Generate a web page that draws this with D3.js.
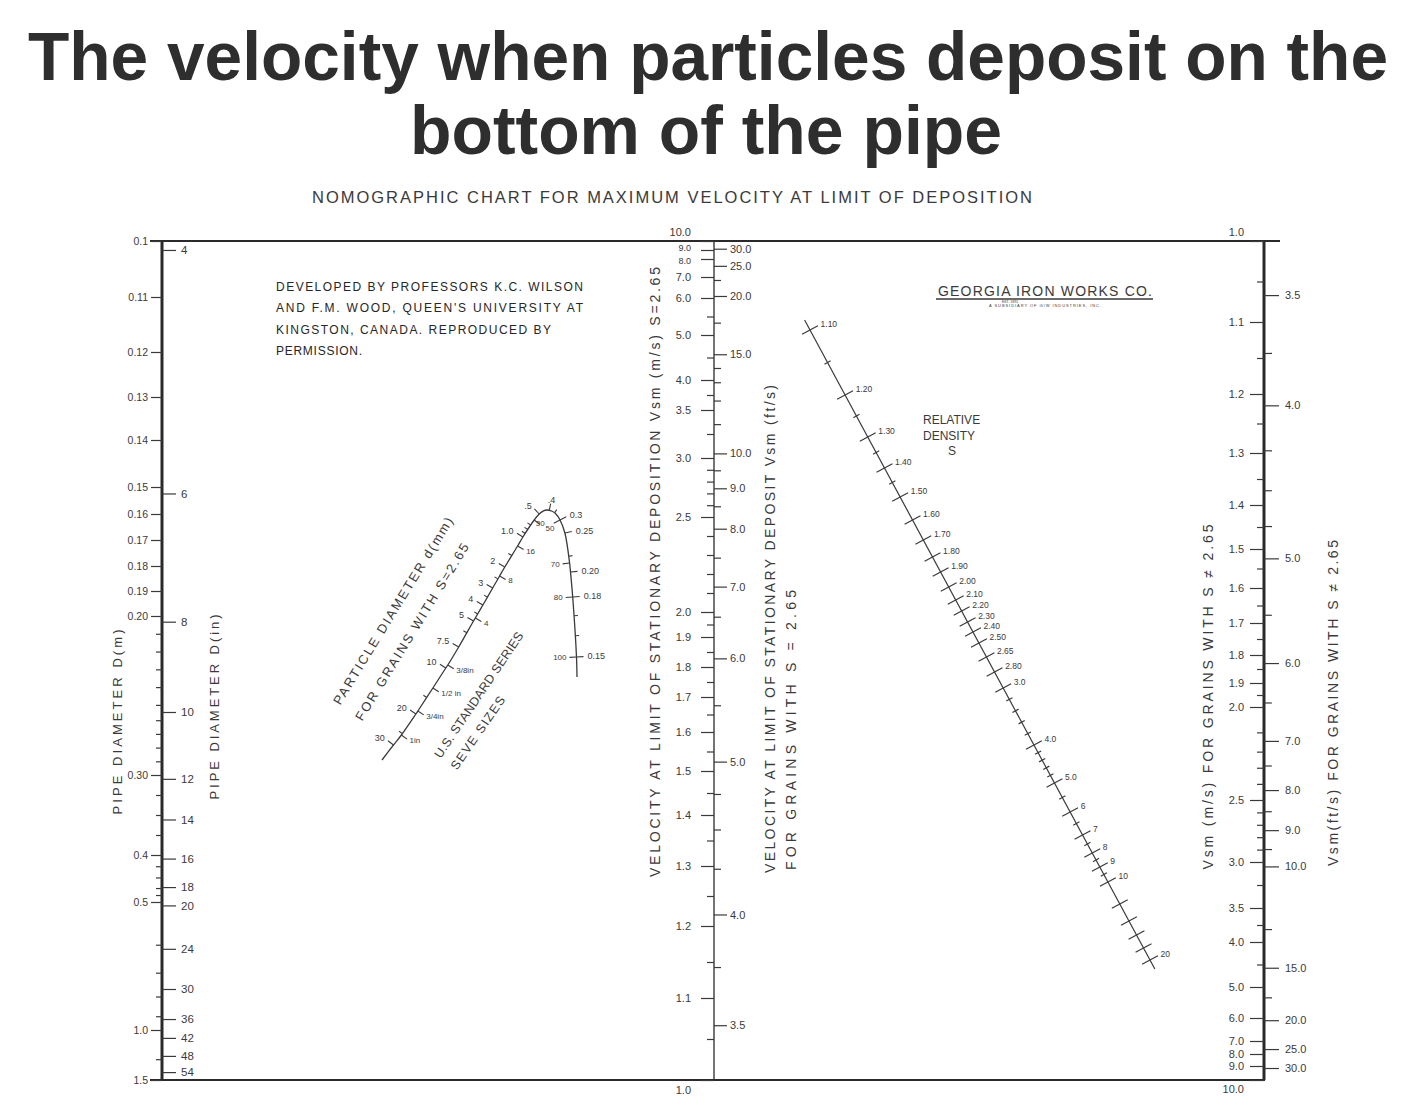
<!DOCTYPE html>
<html>
<head>
<meta charset="utf-8">
<style>
  body { margin: 0; background: #fff; }
  svg { display: block; }
  text { font-family: "Liberation Sans", Arial, sans-serif; fill: #3a3a3a; }
</style>
</head>
<body>
<svg width="1416" height="1113"></svg>
<script src="https://d3js.org/d3.v7.min.js"></script>
<script>

// pipe diameter, metres (left side) and inches (right side)
var pipeM = [0.1,0.11,0.12,0.13,0.14,0.15,0.16,0.17,0.18,0.19,0.2,0.3,0.4,0.5,1.0,1.5];
var pipeMLabels = ["0.1","0.11","0.12","0.13","0.14","0.15","0.16","0.17","0.18","0.19","0.20","0.30","0.4","0.5","1.0","1.5"];
var pipeMMinor = [0.21,0.22,0.23,0.24,0.25,0.26,0.27,0.28,0.29,0.325,0.35,0.375,0.42,0.44,0.46,0.48,0.6,0.7,0.8,0.9,1.25];
var pipeIn = [4,6,8,10,12,14,16,18,20,24,30,36,42,48,54];

// Vsm for S = 2.65 (middle scale)
var vsmMid = [10,9,8,7,6,5,4,3.5,3,2.5,2,1.9,1.8,1.7,1.6,1.5,1.4,1.3,1.2,1.1,1.0];
var vsmMidLabels = ["10.0","9.0","8.0","7.0","6.0","5.0","4.0","3.5","3.0","2.5","2.0","1.9","1.8","1.7","1.6","1.5","1.4","1.3","1.2","1.1","1.0"];
var vsmMidMinor = [1.05,1.15,1.25,1.35,1.45,1.55,1.65,1.75,1.85,1.95,2.1,2.2,2.3,2.4,2.6,2.7,2.8,2.9,3.25,3.75,4.5,5.5];
var vsmMidFt = [30,25,20,15,10,9,8,7,6,5,4,3.5];
var vsmMidFtLabels = ["30.0","25.0","20.0","15.0","10.0","9.0","8.0","7.0","6.0","5.0","4.0","3.5"];
var vsmMidFtMinor = [3.75,4.25,4.5,4.75,5.5,6.5,7.5,8.5,9.5,11,12,13,14,17.5,22.5];

// Vsm for S != 2.65 (right scale)
var vsmRight = [1.0,1.1,1.2,1.3,1.4,1.5,1.6,1.7,1.8,1.9,2.0,2.5,3.0,3.5,4.0,5.0,6.0,7.0,8.0,9.0,10.0];
var vsmRightLabels = ["1.0","1.1","1.2","1.3","1.4","1.5","1.6","1.7","1.8","1.9","2.0","2.5","3.0","3.5","4.0","5.0","6.0","7.0","8.0","9.0","10.0"];
var vsmRightMinor = [1.05,1.15,1.25,1.35,1.45,1.55,1.65,1.75,1.85,1.95,2.1,2.2,2.3,2.4,2.6,2.7,2.8,2.9,3.25,3.75,4.5];
var vsmRightFt = [3.5,4,5,6,7,8,9,10,15,20,25,30];
var vsmRightFtLabels = ["3.5","4.0","5.0","6.0","7.0","8.0","9.0","10.0","15.0","20.0","25.0","30.0"];
var vsmRightFtMinor = [3.75,4.25,4.5,4.75,5.5,6.5,7.5,8.5,9.5,12.5,17.5];

// relative density S
var density = [1.1,1.2,1.3,1.4,1.5,1.6,1.7,1.8,1.9,2.0,2.1,2.2,2.3,2.4,2.5,2.65,2.8,3.0,4.0,5.0,6,7,8,9,10,20];
var densityLabels = ["1.10","1.20","1.30","1.40","1.50","1.60","1.70","1.80","1.90","2.00","2.10","2.20","2.30","2.40","2.50","2.65","2.80","3.0","4.0","5.0","6","7","8","9","10","20"];
var densityPlain = [12,14,16,18];
var densityMinor = [1.15,1.25,1.35,1.45,3.2,3.4,3.6,3.8,4.2,4.4,4.6,4.8,5.5,6.5,7.5,8.5,9.5];

// particle diameter (mm) and US standard sieve sizes
var particleMm = [30,20,10,7.5,5,4,3,2,1.0,0.5,0.4,0.3,0.25,0.2,0.18,0.15];
var particleLabels = ["30","20","10","7.5","5","4","3","2","1.0",".5",".4","0.3","0.25","0.20","0.18","0.15"];
var particleMinor = [25,15,6,4.5,3.5,2.5,1.5,0.9,0.8,0.7,0.35,0.22,0.17,0.16];
var sieveMm = [25.4,19.05,12.7,9.53,4.75,2.36,1.18,0.6,0.3,0.212,0.18,0.15];
var sieveLabels = ["1in","3/4in","1/2 in","3/8in","4","8","16","30","50","70","80","100"];

// ---- layout: the nomograph's functional scales ----
var svg = d3.select("svg"),
    ink = "#3a3a3a",
    font = "'Liberation Sans', Arial, sans-serif";

var frameTop = 241, frameBottom = 1080;
var leftX = 162, midX = 714, rightX = 1264;

function offsets(o) { return o.map(function(v){ return frameTop + v; }); }

// knots measured along each scale (px below the top frame line)
var pipeKnotM = [0.1,0.11,0.12,0.13,0.14,0.15,0.16,0.17,0.18,0.19,0.2,0.254,0.3,0.4,0.457,0.5,0.61,0.762,0.914,1.0,1.22,1.37,1.5];
var pipeKnotY = [0,56,111,156,199,246,273,299,325,350,375,471,534,614,646,661,708,748,778,789,815,831,839];
var pipeScale = d3.scaleLinear().domain(pipeKnotM).range(offsets(pipeKnotY));
var inchScale = d3.scaleLinear().domain(pipeKnotM.map(function(m){ return m/0.0254; })).range(offsets(pipeKnotY));

var midKnotV = [1.0,1.1,1.2,1.3,1.4,1.5,1.6,1.7,1.8,1.9,2,2.5,3,3.5,4,5,6,7,8,9,10];
var midKnotY = [839,757,685,625,574,530,491,456,426,396,371,276,217,169,139,94,57,36,18,9,0];
var midScale = d3.scaleLinear().domain(midKnotV).range(offsets(midKnotY));
var midFtScale = d3.scaleLinear().domain(midKnotV.map(function(v){ return v/0.3048; })).range(offsets(midKnotY));

var rightKnotV = [1.0,1.1,1.2,1.3,1.4,1.5,1.6,1.7,1.8,1.9,2.0,2.134,2.5,3.0,3.5,4.0,5.0,6.0,7.0,8.0,9.0,10.0];
var rightKnotY = [0,81,153,212,264,308,347,382,414,442,466,500,559,621,667,701,746,777,800,813,825,839];
var rightScale = d3.scaleLinear().domain(rightKnotV).range(offsets(rightKnotY));
var rightFtScale = d3.scaleLinear().domain(rightKnotV.map(function(v){ return v/0.3048; })).range(offsets(rightKnotY));

// density line: S -> y along the line, y -> x on the straight line
var densKnotS = [1.1,1.2,1.3,1.4,1.5,1.6,1.7,1.8,1.9,2.0,2.1,2.2,2.3,2.4,2.5,2.65,2.8,3.0,4.0,5.0,6,7,8,9,10,12,14,16,18,20];
var densKnotY = [330,395,437,468,497,520,540,557,572,587,600,611,622,632,643,657,672,688,745,783,812,835,853,867,882,904,921,935,948,960];
var densY = d3.scaleLinear().domain(densKnotS).range(densKnotY);
var lineX = d3.scaleLinear().domain([330,960]).range([810,1150]);

// particle curve: d (mm) -> x, y
var curveKnotD = [34,30,25.4,20,19.05,12.7,10,9.53,7.5,5,4.75,4,3,2.36,2,1.18,1.0,0.6,0.5,0.45,0.42,0.38,0.34,0.3,0.25,0.212,0.2,0.18,0.15,0.138];
var curveKnotX = [382,393.5,401.4,415.9,417.9,432.9,445.8,447.8,458.7,473.5,475.3,482.9,492.7,499.6,504.8,517.6,522.9,534.2,539.2,543.5,547,551.5,555.5,560,564.9,569.6,570.5,572.7,576.5,577];
var curveKnotY = [760,745,735,714,711,688,668,665,647,621,618,605,588,576,567,546,537,520,514,510.8,510,511,513.5,520,533,563,572,597,657,677];
var cx = d3.scaleLog().domain(curveKnotD).range(curveKnotX);
var cy = d3.scaleLog().domain(curveKnotD).range(curveKnotY);

// ---- title ----
svg.append("text").attr("x", 708).attr("y", 80)
  .attr("text-anchor", "middle").attr("font-size", 68).attr("font-weight", "bold")
  .attr("textLength", 1360).attr("lengthAdjust", "spacingAndGlyphs")
  .style("fill", "#2e2e2e")
  .text("The velocity when particles deposit on the");
svg.append("text").attr("x", 706).attr("y", 154)
  .attr("text-anchor", "middle").attr("font-size", 68).attr("font-weight", "bold")
  .attr("textLength", 592).attr("lengthAdjust", "spacingAndGlyphs")
  .style("fill", "#2e2e2e")
  .text("bottom of the pipe");
svg.append("text").attr("x", 672).attr("y", 203)
  .attr("text-anchor", "middle").attr("font-size", 16.5)
  .attr("textLength", 720).attr("lengthAdjust", "spacing")
  .text("NOMOGRAPHIC CHART FOR MAXIMUM VELOCITY AT LIMIT OF DEPOSITION");

// ---- frame ----
var frame = svg.append("g").attr("stroke", "#2a2a2a").attr("fill", "none");
frame.append("line").attr("x1", 150).attr("x2", 1280).attr("y1", frameTop).attr("y2", frameTop).attr("stroke-width", 2.2);
frame.append("line").attr("x1", 150).attr("x2", rightX + 1).attr("y1", frameBottom).attr("y2", frameBottom).attr("stroke-width", 2.2);
frame.append("line").attr("x1", leftX).attr("x2", leftX).attr("y1", frameTop).attr("y2", frameBottom).attr("stroke-width", 3);
frame.append("line").attr("x1", midX).attr("x2", midX).attr("y1", frameTop).attr("y2", frameBottom).attr("stroke-width", 1.3);
frame.append("line").attr("x1", rightX).attr("x2", rightX).attr("y1", frameTop).attr("y2", frameBottom).attr("stroke-width", 3);

// ---- axes ----
function styleAxis(g, size) {
  g.attr("font-family", font).attr("font-size", size).attr("color", ink);
  g.select(".domain").remove();
  g.selectAll(".tick line").attr("stroke-width", 1.2);
}
function labelsFrom(arr) { return function(d, i) { return arr[i]; }; }

function addAxis(axis, x, size) {
  return svg.append("g").attr("transform", "translate(" + x + ",0)").call(axis).call(styleAxis, size);
}

// left: pipe diameter
addAxis(d3.axisLeft(pipeScale).tickValues(pipeM).tickFormat(labelsFrom(pipeMLabels)).tickSize(11).tickPadding(3), leftX, 10.5);
addAxis(d3.axisLeft(pipeScale).tickValues(pipeMMinor).tickFormat("").tickSize(6), leftX, 10);
addAxis(d3.axisRight(inchScale).tickValues(pipeIn).tickFormat(d3.format("d")).tickSize(14).tickPadding(5), leftX, 11.5);

// middle: Vsm, S = 2.65
var gMid = addAxis(d3.axisLeft(midScale).tickValues(vsmMid).tickFormat(labelsFrom(vsmMidLabels)).tickSize(13).tickPadding(10), midX, 11);
addAxis(d3.axisLeft(midScale).tickValues(vsmMidMinor).tickFormat("").tickSize(7), midX, 10);
addAxis(d3.axisRight(midFtScale).tickValues(vsmMidFt).tickFormat(labelsFrom(vsmMidFtLabels)).tickSize(13).tickPadding(3), midX, 11);
addAxis(d3.axisRight(midFtScale).tickValues(vsmMidFtMinor).tickFormat("").tickSize(7), midX, 10);
gMid.selectAll(".tick").filter(function(d){ return d === 10; }).select("text").attr("y", -9);
gMid.selectAll(".tick").filter(function(d){ return d === 1; }).select("text").attr("y", 10);
// the crowded 9.0 / 8.0 pair is stacked tightly, as on the original
gMid.selectAll(".tick").filter(function(d){ return d === 9 || d === 8; }).select("text")
  .attr("font-size", 9).attr("y", function(d){ return d === 9 ? -2.5 : 2; });

// right: Vsm, S != 2.65
var gRight = addAxis(d3.axisLeft(rightScale).tickValues(vsmRight).tickFormat(labelsFrom(vsmRightLabels)).tickSize(14).tickPadding(6), rightX, 11);
addAxis(d3.axisLeft(rightScale).tickValues(vsmRightMinor).tickFormat("").tickSize(7), rightX, 10);
addAxis(d3.axisRight(rightFtScale).tickValues(vsmRightFt).tickFormat(labelsFrom(vsmRightFtLabels)).tickSize(15).tickPadding(6), rightX, 11);
addAxis(d3.axisRight(rightFtScale).tickValues(vsmRightFtMinor).tickFormat("").tickSize(8), rightX, 10);
gRight.selectAll(".tick").filter(function(d){ return d === 1; }).select("text").attr("y", -9);
gRight.selectAll(".tick").filter(function(d){ return d === 10; }).select("text").attr("y", 9);

// ---- axis titles (vertical) ----
function vtext(txt, x, y, len, size) {
  svg.append("text")
    .attr("transform", "translate(" + x + "," + y + ") rotate(-90)")
    .attr("text-anchor", "middle").attr("dominant-baseline", "central")
    .attr("font-size", size).attr("textLength", len).attr("lengthAdjust", "spacing")
    .text(txt);
}
vtext("PIPE DIAMETER   D(m)", 117, 722, 185, 13);
vtext("PIPE  DIAMETER   D(in)", 214, 707, 185, 13);
vtext("VELOCITY AT LIMIT OF STATIONARY DEPOSITION   Vsm (m/s)   S=2.65", 655, 572, 610, 14);
vtext("VELOCITY AT LIMIT OF STATIONARY DEPOSIT   Vsm (ft/s)", 770, 629, 488, 14);
vtext("FOR GRAINS WITH S = 2.65", 791, 730, 280, 14);
vtext("Vsm (m/s)   FOR   GRAINS   WITH   S \u2260 2.65", 1208, 697, 345, 14);
vtext("Vsm(ft/s)  FOR  GRAINS  WITH  S \u2260 2.65", 1333, 703, 326, 14);

// ---- notes ----
var note = ["DEVELOPED  BY  PROFESSORS K.C.  WILSON",
            "AND F.M. WOOD,  QUEEN'S  UNIVERSITY  AT",
            "KINGSTON,  CANADA.  REPRODUCED  BY",
            "PERMISSION."];
var noteLen = [307, 307, 275, 86];
svg.append("g").selectAll("text").data(note).enter().append("text")
  .attr("x", 276).attr("y", function(d, i){ return 291 + i * 21.3; })
  .attr("font-size", 12).attr("textLength", function(d, i){ return noteLen[i]; })
  .attr("lengthAdjust", "spacing").style("fill", "#262626")
  .text(function(d){ return d; });

svg.append("text").attr("x", 938).attr("y", 296).attr("font-size", 14)
  .attr("textLength", 214).attr("lengthAdjust", "spacing").text("GEORGIA IRON WORKS CO.");
svg.append("line").attr("x1", 936).attr("x2", 1153).attr("y1", 299).attr("y2", 299)
  .attr("stroke", ink).attr("stroke-width", 1.3);
svg.append("text").attr("x", 1010).attr("y", 302.5).attr("font-size", 3.5).attr("text-anchor", "middle").text("EST. 1891");
svg.append("text").attr("x", 1045).attr("y", 307).attr("font-size", 4).attr("text-anchor", "middle")
  .attr("textLength", 112).attr("lengthAdjust", "spacing").text("A SUBSIDIARY OF GIW INDUSTRIES, INC.");

var relLines = ["RELATIVE", "DENSITY", "S"];
svg.append("g").selectAll("text").data(relLines).enter().append("text")
  .attr("x", function(d, i){ return i < 2 ? 923 : 952; })
  .attr("y", function(d, i){ return 424 + i * 15.5; })
  .attr("font-size", 12).attr("text-anchor", function(d, i){ return i < 2 ? "start" : "middle"; })
  .text(function(d){ return d; });

// ---- relative density line ----
var perp = (function(){ var dx = 340, dy = 630, l = Math.hypot(dx, dy); return [dy / l, -dx / l]; })();
function densPt(s) { var y = densY(s); return [lineX(y), y]; }

var dens = svg.append("g").attr("stroke", ink).attr("stroke-width", 1.2);
dens.append("line")
  .attr("x1", lineX(320)).attr("y1", 320).attr("x2", lineX(969)).attr("y2", 969);

function densTicks(values, len) {
  dens.selectAll(null).data(values).enter().append("line")
    .attr("x1", function(d){ return densPt(d)[0] - perp[0] * len; })
    .attr("y1", function(d){ return densPt(d)[1] - perp[1] * len; })
    .attr("x2", function(d){ return densPt(d)[0] + perp[0] * len; })
    .attr("y2", function(d){ return densPt(d)[1] + perp[1] * len; });
}
densTicks(density, 9);
densTicks(densityPlain, 9);
densTicks(densityMinor, 3.5);

svg.append("g").selectAll("text").data(density).enter().append("text")
  .attr("x", function(d){ return densPt(d)[0] + perp[0] * 12; })
  .attr("y", function(d){ return densPt(d)[1] + perp[1] * 12; })
  .attr("dominant-baseline", "central").attr("font-size", 8.5)
  .text(function(d, i){ return densityLabels[i]; });

// ---- particle diameter curve ----
function cPt(d) { return [cx(d), cy(d)]; }
function cNorm(d) {   // outer normal (left of travel toward finer grains)
  var a = cPt(d * 1.04), b = cPt(d / 1.04);
  var tx = b[0] - a[0], ty = b[1] - a[1], l = Math.hypot(tx, ty);
  return [ty / l, -tx / l];
}

var curve = svg.append("g").attr("stroke", ink).attr("fill", "none").attr("stroke-width", 1.3);
curve.append("path")
  .attr("d", d3.line().curve(d3.curveCatmullRom)(curveKnotD.map(cPt)));

function curveTicks(values, len, side) {
  curve.selectAll(null).data(values).enter().append("line")
    .attr("stroke-width", 1.1)
    .attr("x1", function(d){ return cPt(d)[0]; })
    .attr("y1", function(d){ return cPt(d)[1]; })
    .attr("x2", function(d){ return cPt(d)[0] + side * cNorm(d)[0] * len; })
    .attr("y2", function(d){ return cPt(d)[1] + side * cNorm(d)[1] * len; });
}
curveTicks(particleMm, 7, 1);
curveTicks(particleMinor, 4, 1);
curveTicks(sieveMm, 7, -1);

function curveLabels(values, labels, side, dist, size) {
  return svg.append("g").selectAll("text").data(values).enter().append("text")
    .attr("x", function(d){ return cPt(d)[0] + side * cNorm(d)[0] * dist; })
    .attr("y", function(d){ return cPt(d)[1] + side * cNorm(d)[1] * dist; })
    .attr("text-anchor", function(d){
      var nx = side * cNorm(d)[0];
      return nx < -0.3 ? "end" : (nx > 0.3 ? "start" : "middle");
    })
    .attr("dominant-baseline", "central").attr("font-size", size)
    .text(function(d, i){ return labels[i]; });
}
curveLabels(particleMm, particleLabels, 1, 11, 9);
var sieveText = curveLabels(sieveMm, sieveLabels, -1, 10, 8);
// inside the arch the two sieve numbers sit side by side under the apex
sieveText.filter(function(d){ return d === 0.6 || d === 0.3; })
  .attr("text-anchor", "middle")
  .attr("x", function(d){ return cPt(d)[0] + (d === 0.6 ? 6 : -10); })
  .attr("y", function(d){ return cPt(d)[1] + (d === 0.6 ? 3 : 8); });

function slanted(txt, x, y, ang, len, size) {
  svg.append("text")
    .attr("transform", "translate(" + x + "," + y + ") rotate(" + ang + ")")
    .attr("text-anchor", "middle").attr("dominant-baseline", "central")
    .attr("font-size", size).attr("textLength", len).attr("lengthAdjust", "spacing")
    .text(txt);
}
slanted("PARTICLE  DIAMETER  d(mm)", 393, 611, -58.5, 217, 13);
slanted("FOR  GRAINS  WITH  S=2.65", 412, 632, -58.5, 205, 13);
slanted("U.S. STANDARD SERIES", 479, 695, -56, 149, 12.5);
slanted("SEVE SIZES", 478, 733, -55.5, 86, 12.5);
</script>
</body>
</html>
